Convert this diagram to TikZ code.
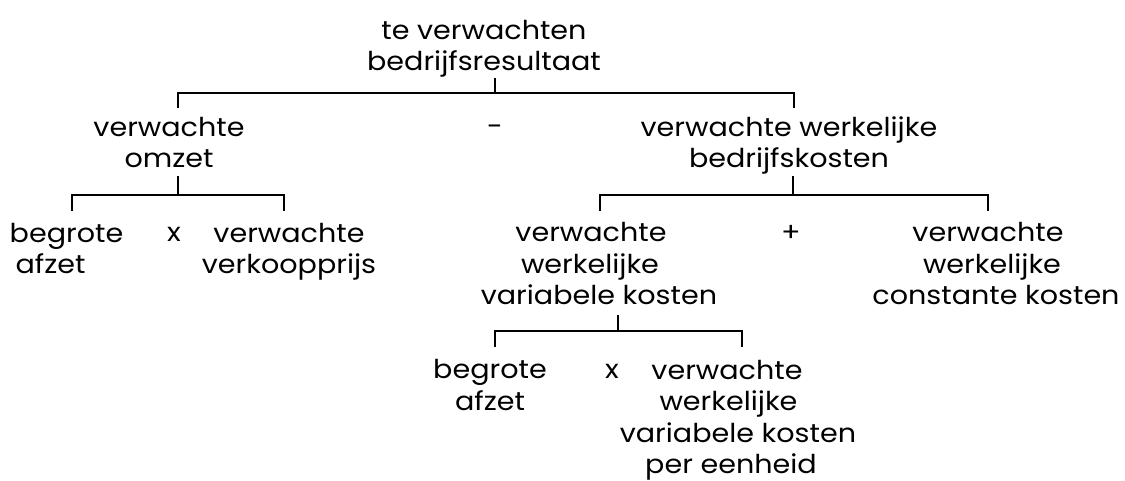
\documentclass[tikz,border=0pt]{standalone}
\usepackage{fontspec}
\setmainfont{Poppins}[FakeStretch=1.1]
\newcommand{\mv}[2]{\hspace*{#1}#2\hspace*{-#1}}
\begin{document}
\begin{tikzpicture}[x=1pt,y=-1pt,
  txt/.style={font=\fontsize{26}{31.5}\selectfont, align=center, inner sep=0pt, anchor=base},
  conn/.style={line width=2pt, line cap=butt}]
\useasboundingbox (0,0) rectangle (1125,481);
% texts (anchor base = baseline of the last line)
\node[txt] (top) at (484,71) {te verwachten\\bedrijfsresultaat};
\node[txt] (omzet) at (169,168) {verwachte\\omzet};
\node[txt] (minus) at (495,136) {-};
\node[txt] (kost) at (789,168) {verwachte werkelijke\\bedrijfskosten};
\node[txt] (afzet1) at (58.5,273.5) {\mv{8pt}{begrote}\\\mv{-8pt}{afzet}};
\node[txt] (times1) at (174,242) {x};
\node[txt] (prijs) at (289,273.5) {verwachte\\verkoopprijs};
\node[txt] (varkost) at (593,305) {\mv{-2pt}{verwachte}\\\mv{-6pt}{werkelijke}\\\mv{6pt}{variabele kosten}};
\node[txt] (plus) at (791,242) {+};
\node[txt] (constkost) at (992,305) {\mv{-4pt}{verwachte}\\werkelijke\\\mv{4pt}{constante kosten}};
\node[txt] (afzet2) at (490,410) {begrote\\afzet};
\node[txt] (times2) at (612,378) {x};
\node[txt] (eenheid) at (732,473.5) {\mv{-5pt}{verwachte}\\\mv{-7pt}{werkelijke}\\\mv{12pt}{variabele kosten}\\\mv{-1pt}{per eenheid}};
% connector points
\coordinate (topS) at (495,78);   \coordinate (topB) at (495,93);
\coordinate (omzetT) at (178,108); \coordinate (kostT) at (794,108);
\coordinate (omzetS) at (178,176); \coordinate (omzetB) at (178,195);
\coordinate (afzet1T) at (72,211); \coordinate (prijsT) at (284,211);
\coordinate (kostS) at (793,176);  \coordinate (kostB) at (793,195);
\coordinate (varkostT) at (600,211); \coordinate (constkostT) at (988,211);
\coordinate (varkostS) at (618,315); \coordinate (varkostB) at (618,331);
\coordinate (afzet2T) at (495,347); \coordinate (eenheidT) at (742,347);
% connectors
\draw[conn] (topS) -- (topB);
\draw[conn] (omzetT) |- (topB) -| (kostT);
\draw[conn] (omzetS) -- (omzetB);
\draw[conn] (afzet1T) |- (omzetB) -| (prijsT);
\draw[conn] (kostS) -- (kostB);
\draw[conn] (varkostT) |- (kostB) -| (constkostT);
\draw[conn] (varkostS) -- (varkostB);
\draw[conn] (afzet2T) |- (varkostB) -| (eenheidT);
\end{tikzpicture}
\end{document}
